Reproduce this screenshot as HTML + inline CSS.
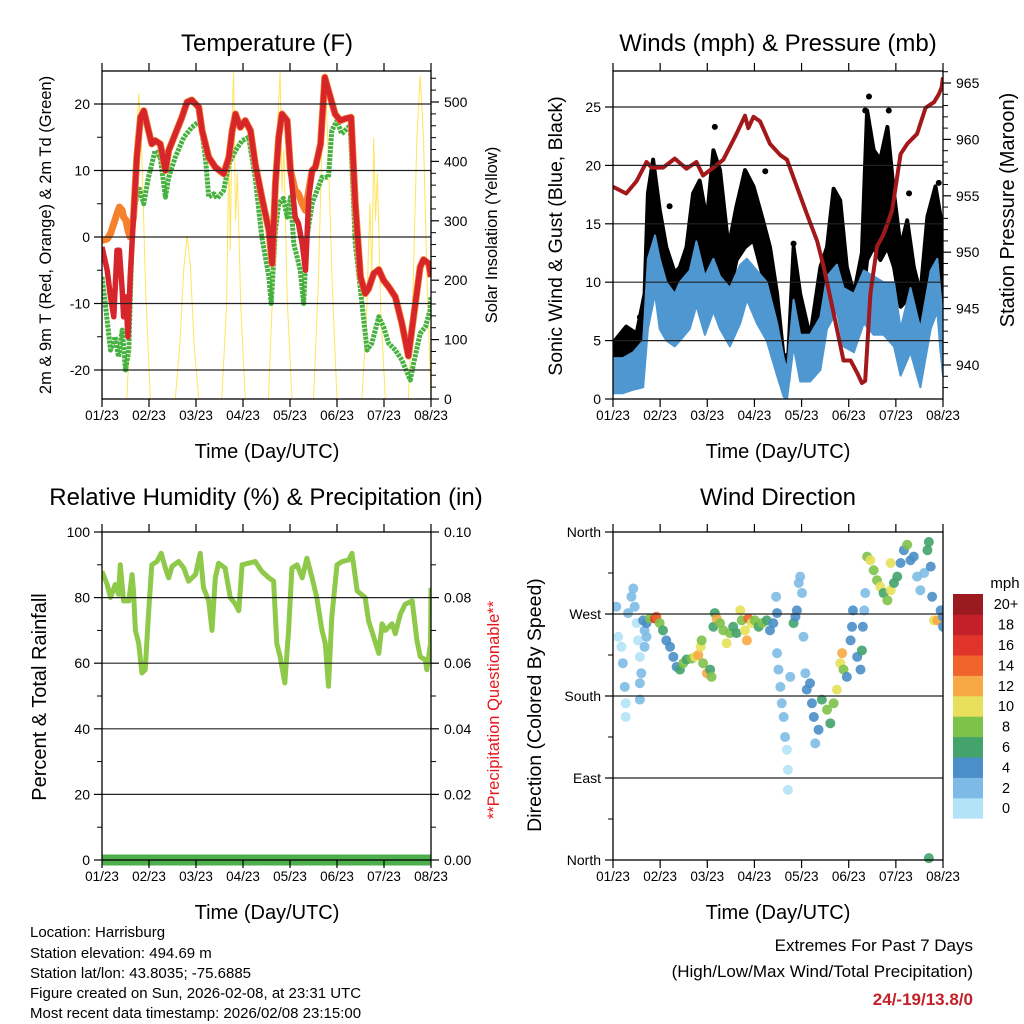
<!DOCTYPE html>
<html><head><meta charset="utf-8">
<style>
html,body{margin:0;padding:0;background:#fff;}
svg{display:block;font-family:"Liberation Sans",Arial,sans-serif;}
</style></head>
<body>
<svg id="fig" width="1024" height="1024" viewBox="0 0 1024 1024" xmlns="http://www.w3.org/2000/svg">
<defs>
<clipPath id="cT"><rect x="102" y="71" width="329" height="328"/></clipPath>
<clipPath id="cW"><rect x="613" y="71" width="330" height="328"/></clipPath>
<clipPath id="cR"><rect x="102" y="532" width="329" height="334"/></clipPath>
<clipPath id="cD"><rect x="613" y="527" width="330" height="338"/></clipPath>
</defs>
<rect width="1024" height="1024" fill="#fff"/>
<text x="267" y="51" font-size="24" text-anchor="middle">Temperature (F)</text>
<text x="778" y="51" font-size="24" text-anchor="middle">Winds (mph) &amp; Pressure (mb)</text>
<text x="266" y="505" font-size="24" text-anchor="middle">Relative Humidity (%) &amp; Precipitation (in)</text>
<text x="778" y="505" font-size="24" text-anchor="middle">Wind Direction</text>
<text transform="translate(51,235) rotate(-90)" font-size="16.5" text-anchor="middle">2m &amp; 9m T (Red, Orange) &amp; 2m Td (Green)</text>
<text transform="translate(497,235) rotate(-90)" font-size="16.5" text-anchor="middle">Solar Insolation (Yellow)</text>
<text transform="translate(562,236) rotate(-90)" font-size="19.5" text-anchor="middle">Sonic Wind &amp; Gust (Blue, Black)</text>
<text transform="translate(1014,210) rotate(-90)" font-size="20" text-anchor="middle">Station Pressure (Maroon)</text>
<text transform="translate(46,697) rotate(-90)" font-size="20" text-anchor="middle">Percent &amp; Total Rainfall</text>
<text transform="translate(499,710) rotate(-90)" font-size="16.5" text-anchor="middle" fill="#e8161b">**Precipitation Questionable**</text>
<text transform="translate(541,705) rotate(-90)" font-size="19.5" text-anchor="middle">Direction (Colored By Speed)</text>
<text x="267" y="458" font-size="20" text-anchor="middle">Time (Day/UTC)</text>
<text x="778" y="458" font-size="20" text-anchor="middle">Time (Day/UTC)</text>
<text x="267" y="919" font-size="20" text-anchor="middle">Time (Day/UTC)</text>
<text x="778" y="919" font-size="20" text-anchor="middle">Time (Day/UTC)</text>
<g font-size="15">
<text x="30" y="937">Location: Harrisburg</text>
<text x="30" y="958">Station elevation: 494.69 m</text>
<text x="30" y="978">Station lat/lon: 43.8035; -75.6885</text>
<text x="30" y="998">Figure created on Sun, 2026-02-08, at 23:31 UTC</text>
<text x="30" y="1018">Most recent data timestamp: 2026/02/08 23:15:00</text>
</g>
<text x="973" y="951" font-size="17" text-anchor="end">Extremes For Past 7 Days</text>
<text x="973" y="977" font-size="17" text-anchor="end">(High/Low/Max Wind/Total Precipitation)</text>
<text x="973" y="1005" font-size="17" font-weight="bold" text-anchor="end" fill="#c4202a">24/-19/13.8/0</text>
<text x="1005" y="588" font-size="15" text-anchor="middle">mph</text>
<g id="layer"></g>
</svg>
<script>
// ---------- data ----------
const dayLabels = ["01/23","02/23","03/23","04/23","05/23","06/23","07/23","08/23"];
const tempDays = [0,.11,.18,.25,.32,.37,.43,.46,.51,.55,.6,.67,.74,.82,.89,.99,1.06,1.13,1.24,1.35,1.42,1.56,1.7,1.81,1.91,2.06,2.13,2.27,2.41,2.59,2.7,2.77,2.84,2.94,3.05,3.16,3.26,3.4,3.55,3.62,3.69,3.76,3.83,3.94,4.01,4.11,4.18,4.26,4.33,4.4,4.47,4.54,4.65,4.74,4.86,4.96,5.07,5.18,5.3,5.39,5.5,5.6,5.67,5.78,5.89,5.99,6.1,6.24,6.38,6.52,6.63,6.77,6.84,6.95,7.0];
const temp2m = [-1.5,-5,-9,-12,-2,-2,-8,-12,-9,-15,-6,3,12,18,19,16,14,14.5,14,10,13,15.5,18,20.3,20.6,19.5,16,12,10.5,9.5,12,16,18.5,16.5,17.5,16,11,6,1,-4,8,15,18.5,17.5,10,3,2,-1,-5,6,10,10.5,14,24,21,18.5,17.5,17.8,18,5,-6,-8.5,-7.8,-5.5,-4.9,-6.5,-7.5,-9,-13,-17.9,-12,-4.5,-3.4,-4,-6];
const temp9m = [-0.5,-0.3,0.5,2,3.5,4.5,4,3,2.5,1,0,3,12,18,19,16,14,14.5,14,10,13,15.5,18,20.3,20.6,19.5,16,12,10.5,9.5,12,16,18.5,16.5,17.5,16,11,6,1,-4,8,15,18.5,17.5,10,7,6.5,5,4,7,10,10.5,14,24,21,18.5,17.5,17.8,18,5,-6,-8.5,-7.8,-5.5,-4.9,-6.5,-7.5,-9,-13,-17.9,-12,-4.5,-3.4,-4,-6];
const dewDays = [0,.07,.18,.28,.35,.43,.5,.57,.64,.71,.78,.89,.99,1.13,1.24,1.35,1.42,1.56,1.74,1.91,2.09,2.2,2.27,2.38,2.45,2.59,2.7,2.84,2.98,3.12,3.26,3.4,3.55,3.6,3.69,3.76,3.86,3.94,4.01,4.08,4.15,4.22,4.29,4.36,4.47,4.68,4.82,4.89,5,5.1,5.28,5.39,5.5,5.64,5.74,5.89,5.99,6.1,6.24,6.38,6.56,6.63,6.77,6.88,6.98,7.0];
const dewPoint = [-6,-10,-17,-15,-18,-14,-20,-17,0,5,7.6,5,9,13,12,6,9,12,15,16.5,17.5,12,6,6.5,5.8,7,11,13,14.5,15,9,0,-6,-10,1,5,5.8,3,6,-1,-3,-5,-10,0,5,9,9,16,17.5,15.5,16.8,-1,-8,-17,-16,-12,-13.5,-16,-17,-18.5,-21.5,-19,-14.5,-13.5,-11,-9];
const solarDays = [.53,.63,.71,.78,.85,.93,1.03,1.56,1.66,1.74,1.81,1.88,1.96,2.06,2.55,2.65,2.7,2.73,2.77,2.8,2.84,2.88,2.95,3.05,3.54,3.64,3.72,3.79,3.83,3.87,3.94,4.04,4.5,4.6,4.68,4.75,4.82,4.9,5.0,5.53,5.63,5.7,5.74,5.78,5.82,5.86,5.93,6.03,6.52,6.62,6.7,6.77,6.84,6.92,7.0];
const solarVals = [0,180,410,515,410,180,0,0,95,220,275,225,90,0,0,160,420,250,480,550,300,380,160,0,0,200,440,550,350,420,170,0,0,190,430,550,400,190,0,0,140,330,200,440,300,380,150,0,0,190,440,545,440,190,0];

const windDays = [0,.21,.43,.64,.74,.89,.99,1.13,1.31,1.42,1.63,1.77,1.95,2.13,2.27,2.48,2.7,2.84,3.05,3.26,3.48,3.62,3.69,3.83,3.97,4.18,4.4,4.54,4.75,4.89,5.11,5.32,5.53,5.74,5.96,6.1,6.31,6.52,6.74,6.88,6.95,7.0];
const windHigh = [3.5,3.5,4,5,12,14,12,10,9,10,11,13.5,10.5,12,10.5,9.5,11.5,12,11,10,6.5,3.5,2.5,8.5,5.5,5.5,7,10.5,11.5,9.5,9,11,10.5,10,10,6,9.5,6,11,12,9,6.5];
const windLow = [.5,.5,.8,1,6,9,6,5,4.5,5,6,8,5.5,7.5,6,4.5,6.5,8.5,6.5,5,2,.2,0,4.5,1.5,1.5,2.5,6,7.5,4.5,4,6.5,5.5,5.5,4.5,2,4,1,6,7.5,4,2];
const gustDays = [0,.28,.5,.67,.74,.85,.99,1.13,1.31,1.42,1.56,1.7,1.84,1.99,2.13,2.27,2.45,2.62,2.8,2.98,3.16,3.33,3.48,3.62,3.72,3.83,3.97,4.18,4.4,4.54,4.68,4.82,4.96,5.11,5.28,5.39,5.53,5.67,5.82,5.96,6.1,6.24,6.38,6.52,6.67,6.84,6.95,7.0];
const gustLow = [1.6,2.2,1.9,6.2,10.8,13,11.3,10.2,6.8,9,9.6,11.9,11.3,7.9,11.9,10.8,8.5,11.9,13,13.6,10.8,8.5,5.6,1.6,1.6,7.9,4.5,3.3,6.8,10.2,9.6,10.8,7.9,6.8,7.9,11.9,13,11.9,13,11.3,7.9,8.5,6.2,4.5,10.2,11.9,10.8,6.2];
const gustHigh = [4.8,6.2,5.6,9,17.6,20.5,16.2,13,10.8,11.3,13,17.6,18.7,15.3,21.3,19.6,13,16.5,19.6,18.2,15.6,13,9,3.5,3.9,13,9,5.3,11.3,13,18,17,11.3,9,12.5,24.7,21.3,20.5,23.3,17.6,13,15.3,11.3,9,15.6,18.2,15.6,9];
const gustPeakDays = [2.16,5.43,5.35,5.85,6.28,3.83,1.2,6.91,.57,3.23];
const gustPeakVals = [23.3,25.9,24.7,24.7,17.6,13.3,16.5,18.5,7,19.5];
const presDays = [0,.28,.5,.71,.82,1.06,1.31,1.56,1.77,1.91,2.13,2.34,2.62,2.8,2.87,2.98,3.12,3.33,3.55,3.69,3.9,4.11,4.33,4.47,4.68,4.89,5.04,5.18,5.28,5.35,5.46,5.6,5.74,5.92,6.1,6.24,6.45,6.63,6.81,6.91,6.97,7.0];
const presVals = [955.8,955.2,956.3,958,957.5,957.5,958.3,957.4,958,956.8,957.5,958.2,960.5,962.1,961,962,961.6,959.6,958.6,958.2,955.8,953.4,951,948.7,944.6,940.4,940.4,939.3,938.4,938.6,946.3,950.5,951.6,953.7,958.7,959.6,960.5,962.8,963.3,964,964.6,965.5];

const rhDays = [0,.11,.18,.28,.35,.39,.46,.57,.64,.67,.71,.78,.85,.92,.99,1.06,1.17,1.26,1.35,1.42,1.49,1.63,1.74,1.84,1.99,2.09,2.16,2.27,2.34,2.41,2.48,2.62,2.73,2.84,2.91,2.98,3.12,3.26,3.4,3.55,3.65,3.72,3.79,3.89,3.97,4.04,4.15,4.26,4.36,4.47,4.57,4.68,4.75,4.82,4.89,5,5.11,5.25,5.32,5.43,5.6,5.67,5.78,5.89,5.96,6.03,6.17,6.24,6.35,6.45,6.6,6.7,6.77,6.88,6.91,6.99,7.0];
const rhVals = [88,84,80,84,81,90,79,79,87,82,70,66,57,58,75,90,91,93.5,89,86,89.5,91,89,85,87,93.5,83,79,70,86,90.5,89,80,78,76,90,90.5,91,88,86,85,66,62,54,70,89,90,86,92,86,80,70,66,53,74,90,91,91.5,93.5,82,80,73,68,63,72,70,72,69,75,78,79,67,62,61,58,66,83];
const precipDays = [0,7];
const precipVals = [0,0];

const dirDays = [.07,.11,.18,.21,.25,.27,.27,.32,.39,.43,.46,.5,.53,.57,.6,.57,.57,.67,.67,.64,.71,.71,
 .78,.89,.92,.99,1.06,1.13,1.21,1.28,1.35,1.42,1.49,1.56,1.67,1.74,1.81,1.86,1.88,1.91,1.99,2.06,2.09,
 2.13,2.16,2.2,2.27,2.34,2.41,2.48,2.55,2.62,2.7,2.73,2.8,2.84,2.87,2.94,3.01,3.09,3.16,3.26,3.33,3.4,3.48,3.46,
 3.48,3.51,3.55,3.58,3.62,3.65,3.69,3.71,3.71,3.76,3.83,3.87,3.9,3.94,3.97,4.01,4.04,4.08,4.11,4.18,4.22,4.26,4.29,4.36,4.43,4.54,4.61,4.68,4.75,4.82,4.86,4.89,4.96,5.04,5.07,5.09,5.18,5.25,5.28,5.3,5.33,5.35,
 5.39,5.46,5.53,5.6,5.67,5.74,5.82,5.89,5.96,5.89,6.03,6.1,6.17,6.24,6.31,6.38,6.45,6.52,6.6,6.67,6.7,6.74,6.77,6.81,6.88,6.95,7.0,7.0,6.7];
const dirDeg = [278,245,234,216,190,172,157,271,289,298,278,260,241,223,205,194,176,252,234,263,245,260,
 265,265,267,260,252,241,234,223,212,209,216,220,221,223,225,234,241,216,205,209,201,
 256,271,265,260,252,238,249,256,249,274,263,252,241,265,260,263,256,260,263,252,260,271,289,
 227,209,190,172,157,135,121,99,77,201,260,267,274,304,311,293,245,205,187,194,172,157,128,143,176,165,150,172,187,216,227,209,201,241,256,274,223,209,230,256,274,293,
 333,329,318,307,300,293,285,296,304,326,311,326,340,346,329,333,311,296,315,340,349,322,289,263,263,274,267,256,2];
const dirSpeed = [3,1,1,2,2,0,0,2,2,2,2,1,0,1,2,3,3,3,3,4,2,4,
 8,16,14,8,6,5,4,4,4,6,8,7,8,11,12,10,8,9,13,7,8,
 7,6,13,8,9,10,8,7,6,10,8,11,13,14,10,9,7,8,6,5,4,4,3,
 2,2,2,2,2,2,1,0,0,2,6,4,4,3,3,2,2,3,4,4,4,4,3,4,7,8,6,8,10,10,12,8,5,4,4,4,4,5,6,4,3,3,
 8,10,9,8,10,7,8,11,7,10,6,4,5,8,4,4,3,2,3,6,6,4,4,10,12,5,4,4,6];
const speedLabels = ["0","2","4","6","8","10","12","14","16","18","20+"];
const speedColors = ["#b3e3f7","#7dbbe6","#4a8fc8","#43a36b","#7dc24a","#e8e05a","#f7a945","#f0642c","#e0342a","#c4202a","#9b1a1f"];

// ---------- helpers ----------
const NS = "http://www.w3.org/2000/svg";
const layer = document.getElementById("layer");
function el(tag, attrs, parent) {
  const e = document.createElementNS(NS, tag);
  for (const k in attrs) e.setAttribute(k, attrs[k]);
  (parent || layer).appendChild(e);
  return e;
}
function grp(clip) {
  const g = el("g", clip ? {"clip-path": "url(#" + clip + ")"} : {});
  return g;
}
function lin(d0, d1, r0, r1) { return v => r0 + (v - d0) / (d1 - d0) * (r1 - r0); }

const P = {
  T: {x0:102, x1:431, y0:71, y1:399},
  W: {x0:613, x1:943, y0:71, y1:399},
  R: {x0:102, x1:431, y0:532, y1:860},
  D: {x0:613, x1:943, y0:532, y1:860}
};
const xT = lin(0, 7, P.T.x0, P.T.x1);
const xW = lin(0, 7, P.W.x0, P.W.x1);
const xR = lin(0, 7, P.R.x0, P.R.x1);
const xD = lin(0, 7, P.D.x0, P.D.x1);
const yTemp = lin(-20, 20, 370, 104);
const ySolar = lin(0, 500, 399, 102);
const yWind = lin(0, 25, 399, 107);
const yPres = lin(940, 965, 365, 83);
const yRH = lin(0, 100, 860, 532);
const yPrecip = lin(0, 0.1, 860, 532);
const yDir = lin(0, 360, 860, 532);

function pathFrom(xs, ys, xf, yf) {
  return xs.map((d, i) => (i ? "L" : "M") + xf(d).toFixed(1) + "," + yf(ys[i]).toFixed(1)).join("");
}
function bandFrom(xs, lo, hi, xf, yf) {
  let s = xs.map((d, i) => (i ? "L" : "M") + xf(d).toFixed(1) + "," + yf(hi[i]).toFixed(1)).join("");
  for (let i = xs.length - 1; i >= 0; i--) s += "L" + xf(xs[i]).toFixed(1) + "," + yf(lo[i]).toFixed(1);
  return s + "Z";
}

function frame(p, key, leftTicks, leftLabels, yL, rightTicks, rightLabels, yR, gridVals, leftMinor, rightMinor) {
  const g = el("g", {});
  
  
  gridVals.forEach(v => {
    const ln = el("line", {x1:p.x0, x2:p.x1, y1:yL(v), y2:yL(v), stroke:"#222", "stroke-width":1.2}, g);
    
    
  });
  const r = el("rect", {x:p.x0, y:p.y0, width:p.x1-p.x0, height:p.y1-p.y0, fill:"none", stroke:"#000", "stroke-width":1.3}, g);
  
  
  leftTicks.forEach((v, i) => {
    el("line", {x1:p.x0-8, x2:p.x0, y1:yL(v), y2:yL(v), stroke:"#000", "stroke-width":1.2}, g);
    const t = el("text", {x:p.x0-12, y:yL(v)+5, "font-size":14, "text-anchor":"end"}, g);
    t.textContent = leftLabels[i];
    
    
  });
  leftMinor.forEach(v => el("line", {x1:p.x0-5, x2:p.x0, y1:yL(v), y2:yL(v), stroke:"#000", "stroke-width":1}, g));
  rightTicks.forEach((v, i) => {
    el("line", {x1:p.x1, x2:p.x1+8, y1:yR(v), y2:yR(v), stroke:"#000", "stroke-width":1.2}, g);
    const t = el("text", {x:p.x1+13, y:yR(v)+5, "font-size":14}, g);
    t.textContent = rightLabels[i];
    
    
  });
  rightMinor.forEach(v => el("line", {x1:p.x1, x2:p.x1+5, y1:yR(v), y2:yR(v), stroke:"#000", "stroke-width":1}, g));
  const xf = lin(0, 7, p.x0, p.x1);
  dayLabels.forEach((lab, i) => {
    el("line", {x1:xf(i), x2:xf(i), y1:p.y1, y2:p.y1+8, stroke:"#000", "stroke-width":1.2}, g);
    el("line", {x1:xf(i), x2:xf(i), y1:p.y0-8, y2:p.y0, stroke:"#000", "stroke-width":1.2}, g);
    const t = el("text", {x:xf(i), y:p.y1+21, "font-size":13.5, "text-anchor":"middle"}, g);
    t.textContent = lab;
    
    
  });
}

// ---------- Temperature ----------
const tempTicks = [-20,-10,0,10,20];
const solarTicks = [0,100,200,300,400,500];
{
  const g = grp("cT");
  const s = el("path", {d:pathFrom(solarDays, solarVals, xT, ySolar), fill:"none", stroke:"#ffe55c", "stroke-width":1}, g);
  
  
  const d = el("path", {d:pathFrom(dewDays, dewPoint, xT, yTemp), fill:"none", stroke:"#46b13e", "stroke-width":5, "stroke-dasharray":"3 1", "stroke-linejoin":"round"}, g);
  
  
  const o = el("path", {d:pathFrom(tempDays, temp9m, xT, yTemp), fill:"none", stroke:"#f5812c", "stroke-width":7, "stroke-linejoin":"round"}, g);
  
  
  const r = el("path", {d:pathFrom(tempDays, temp2m, xT, yTemp), fill:"none", stroke:"#d7262b", "stroke-width":5.5, "stroke-linejoin":"round"}, g);
  
  
  frame(P.T, "temperature", tempTicks, tempTicks.map(String), yTemp, solarTicks, solarTicks.map(String), ySolar, tempTicks,
    [-15,-5,5,15], [20,40,60,80,120,140,160,180,220,240,260,280,320,340,360,380,420,440,460,480,520,540]);
}

// ---------- Winds ----------
const windTicks = [0,5,10,15,20,25];
const presTicks = [940,945,950,955,960,965];
{
  const g = grp("cW");
  const gb = el("path", {d:bandFrom(gustDays, gustLow, gustHigh, xW, yWind), fill:"#000", stroke:"#000", "stroke-width":4, "stroke-linejoin":"round"}, g);
  
  
  gustPeakDays.forEach((d, i) => {
    const c = el("circle", {cx:xW(d), cy:yWind(gustPeakVals[i]), r:3, fill:"#000"}, g);
    
    
  });
  const wb = el("path", {d:bandFrom(windDays, windLow, windHigh, xW, yWind), fill:"#4f97d1", stroke:"#4f97d1", "stroke-width":2, "stroke-linejoin":"round"}, g);
  
  
  const p = el("path", {d:pathFrom(presDays, presVals, xW, yPres), fill:"none", stroke:"#a3191b", "stroke-width":4, "stroke-linejoin":"round"}, g);
  
  
  const pm = [];
  for (let v = 938; v <= 966; v++) if (v % 5) pm.push(v);
  frame(P.W, "winds", windTicks, windTicks.map(String), yWind, presTicks, presTicks.map(String), yPres, [5,10,15,20,25], [], pm);
}

// ---------- Humidity ----------
const rhTicks = [0,20,40,60,80,100];
const precipTicks = [0,0.02,0.04,0.06,0.08,0.1];
const precipTickLabels = ["0.00","0.02","0.04","0.06","0.08","0.10"];
{
  const g = grp("cR");
  const pr = el("path", {d:pathFrom(precipDays, precipVals, xR, yPrecip), fill:"none", stroke:"#4cae4c", "stroke-width":11}, g);
  
  
  const rh = el("path", {d:pathFrom(rhDays, rhVals, xR, yRH), fill:"none", stroke:"#8fc94a", "stroke-width":5, "stroke-linejoin":"round"}, g);
  
  
  frame(P.R, "humidity", rhTicks, rhTicks.map(String), yRH, precipTicks, precipTickLabels, yPrecip, [20,40,60,80],
    [10,30,50,70,90], [0.01,0.03,0.05,0.07,0.09]);
}

// ---------- Wind direction ----------
const dirTicks = [0,90,180,270,360];
const dirTickLabels = ["North","East","South","West","North"];
{
  const g = grp("cD");
  dirDays.forEach((d, i) => {
    const bin = Math.min(10, Math.floor(dirSpeed[i] / 2));
    const c = el("circle", {cx:xD(d), cy:yDir(dirDeg[i]), r:5, fill:speedColors[bin], "fill-opacity":0.9}, g);
    
    
  });
  frame(P.D, "direction", dirTicks, dirTickLabels, yDir, [], [], yDir, [90,180,270], [45,135,225,315], []);
  const cb = el("g", {});
  
  
  const h = 20.4, top = 594;
  speedLabels.forEach((lab, i) => {
    const yy = top + (10 - i) * h;
    const r = el("rect", {x:953, y:yy, width:30, height:h+0.3, fill:speedColors[i]}, cb);
    
    
    const t = el("text", {x:1006, y:yy + h/2 + 5, "font-size":14.5, "text-anchor":"middle"}, cb);
    t.textContent = lab;
    
    
  });
}
</script>
</body></html>
